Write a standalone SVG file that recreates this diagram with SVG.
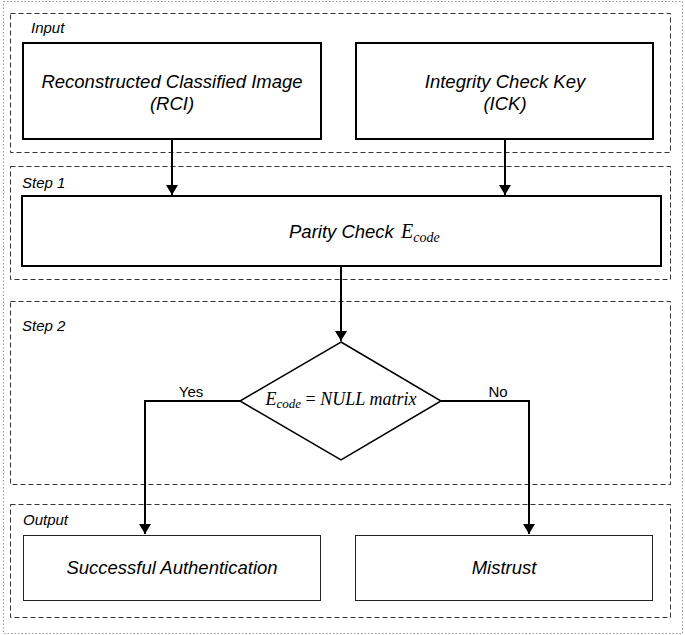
<svg xmlns="http://www.w3.org/2000/svg" width="685" height="635" viewBox="0 0 685 635">
<style>
.frame{fill:none;stroke:#999;stroke-width:1;stroke-dasharray:1.5 2}
.grp{fill:none;stroke:#333;stroke-width:1;stroke-dasharray:5 3}
.box{fill:#fff;stroke:#000;stroke-width:2}
.obox{fill:#fff;stroke:#222;stroke-width:1}
.lbl{font-family:"Liberation Sans",Arial,sans-serif;font-style:italic;font-size:15px;fill:#000}
.txt{font-family:"Liberation Sans",Arial,sans-serif;font-style:italic;font-size:18.5px;fill:#000;text-anchor:middle}
.math{font-family:"Liberation Serif","DejaVu Serif",serif;font-style:italic;fill:#000}
.yn{font-family:"Liberation Sans",Arial,sans-serif;font-size:15px;fill:#000;text-anchor:middle}
.conn{fill:none;stroke:#000;stroke-width:2}
</style>
<defs>
<marker id="ah" viewBox="0 0 10 12" refX="10" refY="6" markerWidth="5" markerHeight="6" orient="auto" markerUnits="strokeWidth">
<path d="M0,0 L10,6 L0,12 Z" fill="#000"/>
</marker>
</defs>
<rect class="frame" x="3.5" y="1.5" width="679" height="632"/>
<g id="group-input"><rect class="grp" x="10.5" y="13.5" width="660" height="139"/><text class="lbl" x="31" y="33">Input</text></g>
<g id="group-step1"><rect class="grp" x="10.5" y="166.5" width="660" height="113"/><text class="lbl" x="22" y="188">Step 1</text></g>
<g id="group-step2"><rect class="grp" x="10.5" y="301.5" width="660" height="183"/><text class="lbl" x="22" y="331">Step 2</text></g>
<g id="group-output"><rect class="grp" x="10.5" y="504.5" width="660" height="113"/><text class="lbl" x="23" y="525">Output</text></g>
<g id="node-rci"><rect class="box" x="23" y="43" width="298" height="96"/><text class="txt" x="172" y="88">Reconstructed Classified Image</text><text class="txt" x="172" y="110">(RCI)</text></g>
<g id="node-ick"><rect class="box" x="356" y="43" width="297" height="96"/><text class="txt" x="505" y="88">Integrity Check Key</text><text class="txt" x="505" y="110">(ICK)</text></g>
<g id="node-parity"><rect class="box" x="22" y="196" width="639" height="70"/><text class="txt" x="289" y="238" style="text-anchor:start">Parity Check</text><text class="math" x="401" y="238" font-size="20">E<tspan font-size="14" dy="4">code</tspan></text></g>
<g id="node-decision"><polygon points="341,342 441,401 341,460 240,401" fill="#fff" stroke="#000" stroke-width="1.5"/><text class="math" x="341" y="405" font-size="18" text-anchor="middle">E<tspan font-size="13" dy="3">code</tspan><tspan dy="-3" font-style="normal"> = </tspan>NULL matrix</text></g>
<g id="node-success"><rect class="obox" x="23.5" y="535.5" width="297" height="65"/><text class="txt" x="172" y="574">Successful Authentication</text></g>
<g id="node-mistrust"><rect class="obox" x="355.5" y="535.5" width="297" height="65"/><text class="txt" x="504" y="574">Mistrust</text></g>
<g id="connectors">
<line class="conn" x1="172" y1="139" x2="172" y2="195" marker-end="url(#ah)"/>
<line class="conn" x1="505" y1="139" x2="505" y2="195" marker-end="url(#ah)"/>
<line class="conn" x1="341" y1="266" x2="341" y2="341" marker-end="url(#ah)"/>
<polyline class="conn" points="240,401 145,401 145,534" marker-end="url(#ah)"/>
<polyline class="conn" points="441,401 529,401 529,534" marker-end="url(#ah)"/>
<text class="yn" x="191" y="397">Yes</text>
<text class="yn" x="498" y="397">No</text>
</g>
</svg>
